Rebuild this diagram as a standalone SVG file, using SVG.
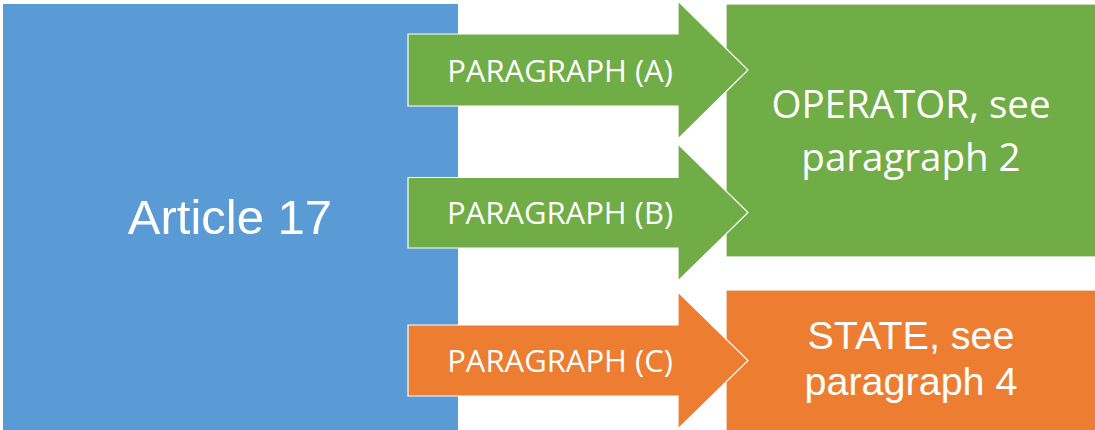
<svg xmlns="http://www.w3.org/2000/svg" width="1095" height="430" viewBox="0 0 1095 430">
  <style>
    .blue { fill: #5B9BD5; }
    .green { fill: #70AD47; }
    .orange { fill: #ED7D31; }
    .edge { stroke: #FFFFFF; stroke-width: 1.2; }
    .lbl { fill: #FFFFFF; font-family: "Open Sans", "Noto Sans", sans-serif; text-anchor: middle; }
    .arial { fill: #FFFFFF; font-family: "Liberation Sans", Arial, sans-serif; text-anchor: middle; }
    .para { font-size: 31px; }
  </style>
  <rect width="1095" height="430" fill="#FFFFFF"/>

  <g id="article">
    <rect class="blue" x="3" y="4" width="455" height="426"/>
    <text class="arial" x="230" y="234" font-size="49">Article 17</text>
  </g>

  <g id="operator">
    <rect class="green edge" x="726" y="4" width="370" height="253"/>
    <text class="lbl" x="911" y="118" font-size="38.5">OPERATOR, see</text>
    <text class="lbl" x="911" y="171" font-size="38.5">paragraph 2</text>
  </g>

  <g id="state">
    <rect class="orange edge" x="726" y="290" width="370" height="141"/>
    <text class="arial" x="911" y="349" font-size="39.5">STATE, see</text>
    <text class="arial" x="911" y="395" font-size="39.5">paragraph 4</text>
  </g>

  <g id="connectors">
    <g id="para-a">
      <polygon class="green edge" points="408,34 678,34 678,1 748,70 678,139 678,106 408,106"/>
      <text class="lbl para" x="560" y="82">PARAGRAPH (A)</text>
    </g>
    <g id="para-b">
      <polygon class="green edge" points="408,177.5 678,177.5 678,144 748,212.5 678,281 678,248 408,248"/>
      <text class="lbl para" x="560" y="224">PARAGRAPH (B)</text>
    </g>
    <g id="para-c">
      <polygon class="orange edge" points="408,325 678,325 678,292 748,360.5 678,429 678,396 408,396"/>
      <text class="lbl para" x="560" y="372">PARAGRAPH (C)</text>
    </g>
  </g>
</svg>
